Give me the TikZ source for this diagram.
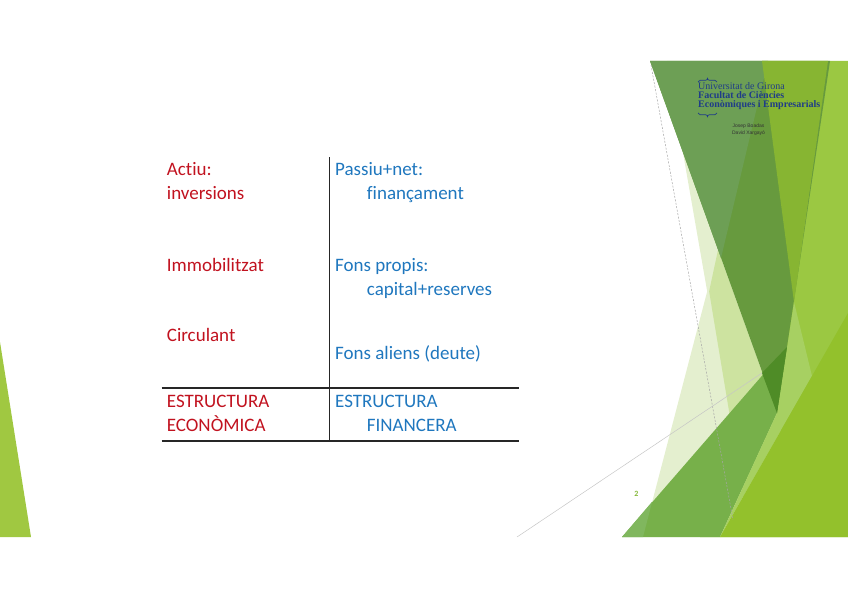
\documentclass[tikz,border=0pt]{standalone}
\usepackage{fontspec}
\setmainfont{Carlito}[Ligatures=NoCommon]
\newfontfamily\logofont{Liberation Serif}
\newfontfamily\authorfont{Liberation Sans}

% colours of the table
\definecolor{actiured}{HTML}{C1121F}
\definecolor{passiublue}{HTML}{1F77BE}
% colours of the facets
\definecolor{leftlime}{HTML}{A0C841}
\definecolor{lime}{HTML}{9BC842}
\definecolor{brightlime}{HTML}{93C12C}
\definecolor{lightlime}{HTML}{A7D062}
\definecolor{pale}{HTML}{E4EFCF}
\definecolor{lightgreen}{HTML}{CDE3A0}
\definecolor{medgreen}{HTML}{77B04A}
\definecolor{medlight}{HTML}{80B75E}
\definecolor{darkgreen}{HTML}{679A3E}
\definecolor{greygreen}{HTML}{6D9F55}
\definecolor{olive}{HTML}{87B532}
\definecolor{deepgreen}{HTML}{4F8C27}
\definecolor{logoblue}{HTML}{1F3C88}
\definecolor{pagegreen}{HTML}{86B83A}

\begin{document}
\begin{tikzpicture}[
    x=1pt, y=-1pt,
    % Textos de la taula
    cell/.style={anchor=base west, inner sep=0pt, font=\fontsize{19}{23}\selectfont},
    actiu/.style={cell, text=actiured},
    passiu/.style={cell, text=passiublue},
    % Linies de la taula
    rule/.style={line width=1.2pt, draw=black!85},
    % Linies fines del fons
    guide/.style={line width=0.5pt, draw=gray!45},
    % Logo i autors
    logo/.style={anchor=base west, inner sep=0pt, text=logoblue, font=\logofont\fontsize{10}{10}\selectfont},
    author/.style={anchor=base, inner sep=0pt, text=black!80, font=\authorfont\fontsize{5}{5}\selectfont},
    brace/.style={draw=logoblue, line width=0.7pt}
]
    \useasboundingbox (0,0) rectangle (848,599);

    % Facetes verdes
    \begin{scope}
        \clip (0,61) rectangle (848,537);
        \fill[leftlime] (0,342) -- (31,537) -- (0,537) -- cycle;
        \fill[lime] (762,61) -- (848,61) -- (848,537) -- (700,537) -- cycle;
        \fill[pale] (667,61) -- (770,61) -- (770,537) -- (750,537) -- cycle;
        \fill[pale] (718,250) -- (777,413) -- (800,537) -- (643,537) -- cycle;
        \fill[lightgreen] (718,250) -- (709.1,291.4) -- (750,537) -- (800,537) -- (777,413) -- cycle;
        \fill[medgreen] (622,537) -- (787,347) -- (777,413) -- (720,537) -- cycle;
        \fill[medlight] (622,537) -- (643,537) -- (652.2,501.6) -- cycle;
        \fill[lightlime] (794,302) -- (812,376) -- (720,537) -- (777,413) -- cycle;
        \fill[brightlime] (848,313) -- (848,537) -- (720,537) -- cycle;
        \fill[darkgreen] (650,61) -- (830,61) -- (777,413) -- cycle;
        \fill[greygreen] (650,61) -- (768,61) -- (721,258) -- cycle;
        \fill[olive] (762,61) -- (828,61) -- (794,302) -- cycle;
        \fill[deepgreen] (762,373) -- (787,347) -- (777,413) -- cycle;
        \draw[guide, draw=gray!70, dash pattern=on 2pt off 1.5pt] (651,65) -- (733,520);
        \draw[guide] (517,537) -- (762,373);
    \end{scope}

    % Logo
    \draw[brace] (698,82) to[out=-90,in=180] (700,80.3) -- (705.5,80.3)
        to[out=0,in=-90] (707.5,78.3) to[out=-90,in=180] (709.5,80.3) -- (715,80.3) to[out=0,in=-90] (717,82);
    \node[logo] (udg) at (698,90) {Universitat de Girona};
    \node[logo] (fac) at (698,99) {\bfseries Facultat de Ciències};
    \node[logo] (eco) at (698,108) {\bfseries Econòmiques i Empresarials};
    \draw[brace] (698,113) to[out=90,in=180] (700,114.7) -- (705.5,114.7)
        to[out=0,in=90] (707.5,116.7) to[out=90,in=180] (709.5,114.7) -- (715,114.7) to[out=0,in=90] (717,113);
    \node[author] (jb) at (748.5,127.5) {Josep Boadas};
    \node[author] (dx) at (748.5,134.5) {David Xargayó};

    % Numero de pagina
    \node[anchor=base, inner sep=0pt, text=pagegreen, font=\bfseries\fontsize{8}{8}\selectfont] (pg) at (636.5,496.5) {2};

    % Taula
    \coordinate (top) at (329.3,157);
    \coordinate (bot) at (329.3,441);
    \coordinate (m1) at (161.7,388);
    \coordinate (m2) at (519.3,388);
    \coordinate (b1) at (161.7,441);
    \coordinate (b2) at (519.3,441);
    \draw[rule] (top) -- (bot);
    \draw[rule] (m1) -- (m2);
    \draw[rule] (b1) -- (b2);

    % Columna esquerra
    \node[actiu] (actiu) at (166.7,175.7) {Actiu:};
    \node[actiu] (inv) at (166.7,199) {inversions};
    \node[actiu] (immo) at (166.7,271) {Immobilitzat};
    \node[actiu] (circ) at (166.7,341) {Circulant};
    \node[actiu] (estr1) at (166.7,407.7) {ESTRUCTURA};
    \node[actiu] (econ) at (166.7,431) {ECONÒMICA};

    % Columna dreta
    \node[passiu] (passiu) at (335,175.7) {Passiu+net:};
    \node[passiu] (fin) at (366.7,199) {finançament};
    \node[passiu] (fp) at (335,271) {Fons propis:};
    \node[passiu] (cap) at (366.7,295) {capital+reserves};
    \node[passiu] (fa) at (335,359.3) {Fons aliens (deute)};
    \node[passiu] (estr2) at (335,407.7) {ESTRUCTURA};
    \node[passiu] (fina) at (366.7,431) {FINANCERA};

\end{tikzpicture}
\end{document}
